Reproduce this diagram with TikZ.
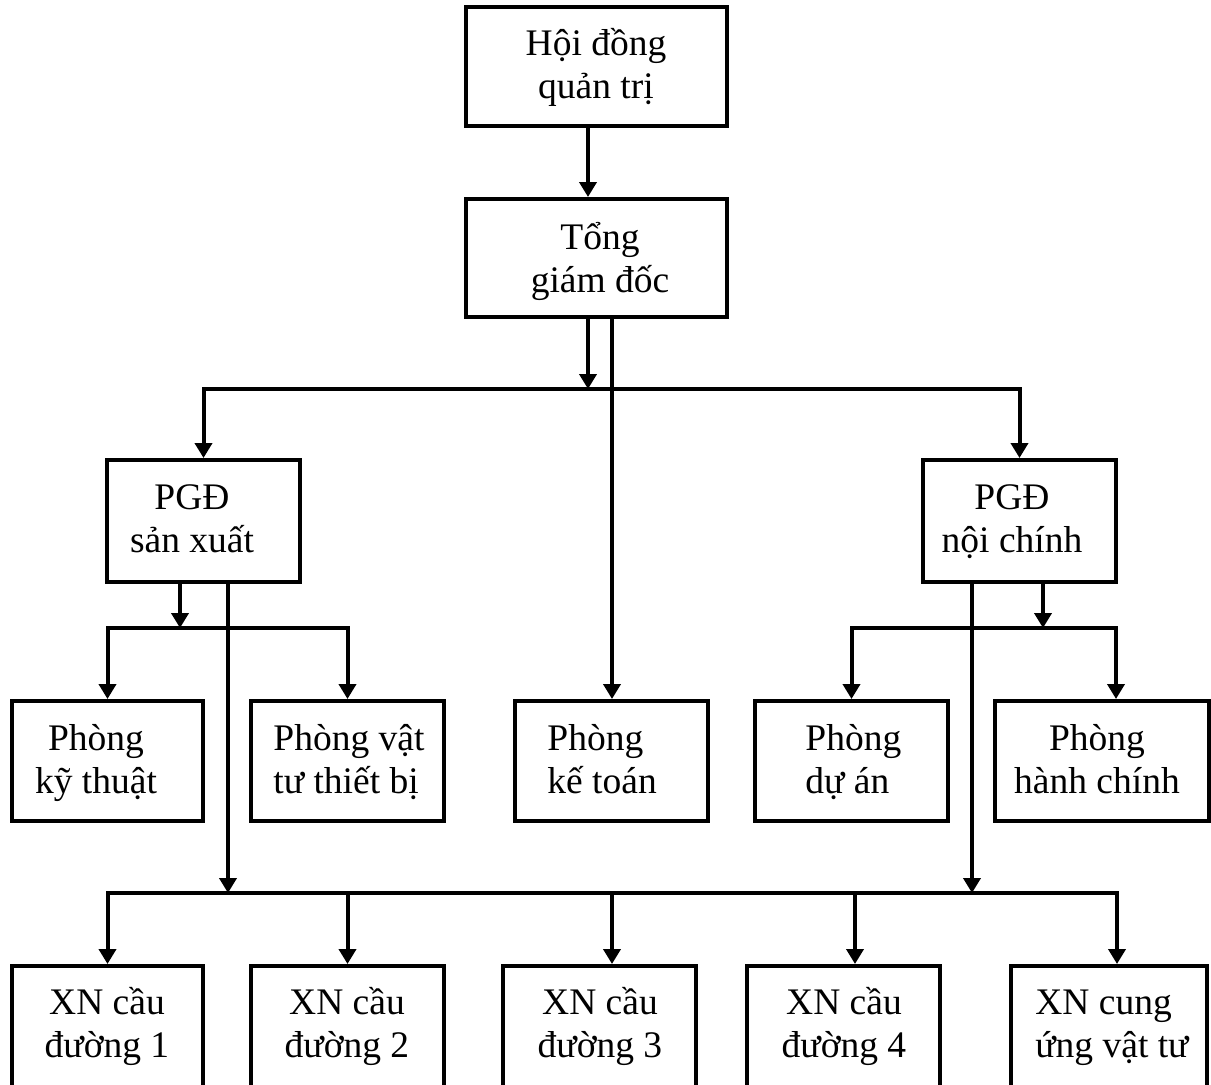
\documentclass[tikz,border=0pt]{standalone}
\usepackage{fontspec}
\setmainfont{Liberation Serif}
\usetikzlibrary{arrows.meta,fit}
% two-line label with fixed first-line height and fixed line spacing
\newcommand\twol[2]{\rule{0pt}{12pt}\smash{#1}\\\smash{#2}}
\begin{document}
\begin{tikzpicture}[x=0.5pt,y=-0.5pt,
  box/.style={draw,line width=2pt,inner sep=0pt},
  lbl/.style={inner sep=0pt,font=\fontsize{18.75pt}{21.75pt}\selectfont,align=center,anchor=north},
  lbll/.style={lbl,align=left,anchor=north west},
  wire/.style={line width=2pt},
  arr/.style={wire,-{Triangle[width=8.5pt,length=7.5pt]}}]
\useasboundingbox (0,0) rectangle (1211,1084);
\clip (0,0) rectangle (1211,1084);

% boxes
\node[box, fit={(466,7) (727,126)}] (hd) {};
\node[box, fit={(466,199) (727,317)}] (tgd) {};
\node[box, fit={(107,460) (300,582)}] (sx) {};
\node[box, fit={(923,460) (1116,582)}] (nc) {};
\node[box, fit={(12,701) (203,821)}] (kt) {};
\node[box, fit={(251,701) (444,821)}] (vt) {};
\node[box, fit={(515,701) (708,821)}] (kto) {};
\node[box, fit={(755,701) (948,821)}] (da) {};
\node[box, fit={(995,701) (1209,821)}] (hc) {};
\node[box, fit={(12,966) (203,1110)}] (x1) {};
\node[box, fit={(251,966) (444,1110)}] (x2) {};
\node[box, fit={(503,966) (696,1110)}] (x3) {};
\node[box, fit={(747,966) (940,1110)}] (x4) {};
\node[box, fit={(1011,966) (1207,1110)}] (x5) {};

% labels
\node[lbl] (t-hd) at (596,31) {\twol{Hội đồng}{quản trị}};
\node[lbl] (t-tgd) at (600,225) {\twol{Tổng}{giám đốc}};
\node[lbl] (t-sx) at (192,485) {\twol{PGĐ}{sản xuất}};
\node[lbl] (t-nc) at (1012,485) {\twol{PGĐ}{nội chính}};
\node[lbl] (t-kt) at (96,726) {\twol{Phòng}{kỹ thuật}};
\node[lbll] (t-vt) at (273,726) {\twol{Phòng vật}{tư thiết bị}};
\node[lbll] (t-kto) at (547,726) {\twol{Phòng}{kế toán}};
\node[lbll] (t-da) at (805,726) {\twol{Phòng}{dự án}};
\node[lbl] (t-hc) at (1097,726) {\twol{Phòng}{hành chính}};
\node[lbl] (t-x1) at (107,990) {\twol{XN cầu}{đường 1}};
\node[lbl] (t-x2) at (347,990) {\twol{XN cầu}{đường 2}};
\node[lbl] (t-x3) at (600,990) {\twol{XN cầu}{đường 3}};
\node[lbl] (t-x4) at (844,990) {\twol{XN cầu}{đường 4}};
\node[lbll] (t-x5) at (1035,990) {\twol{XN cung}{ứng vật tư}};

% junction points on the buses
\coordinate (j1) at (588,389);
\coordinate (j2) at (180,628);
\coordinate (j3) at (228,893);
\coordinate (j4) at (1043,628);
\coordinate (j5) at (972,893);
\coordinate (r1) at (1116,628);
\coordinate (r2) at (1117,893);
\coordinate (m3) at (612,893);
\coordinate (m4) at (855,893);

% connectors
\draw[arr] (hd.south -| j1) -- (tgd.north -| j1);
\draw[arr] (tgd.south -| j1) -- (j1);
\draw[arr] (j1) -- (sx.north |- j1) -- (sx.north);
\draw[arr] (j1) -- (nc.north |- j1) -- (nc.north);
\draw[arr] (tgd.south -| m3) -- (kto.north -| m3);

\draw[arr] (sx.south -| j2) -- (j2);
\draw[arr] (j2) -- (kt.north |- j2) -- (kt.north);
\draw[arr] (j2) -- (vt.north |- j2) -- (vt.north);
\draw[arr] (sx.south -| j3) -- (j3);

\draw[arr] (nc.south -| j4) -- (j4);
\draw[arr] (j4) -- (da.north |- j4) -- (da.north);
\draw[arr] (j4) -- (r1) -- (hc.north -| r1);
\draw[arr] (nc.south -| j5) -- (j5);

\draw[arr] (j3) -- (x1.north |- j3) -- (x1.north);
\draw[arr] (j3) -- (r2) -- (x5.north -| r2);
\draw[arr] (x2.north |- j3) -- (x2.north);
\draw[arr] (m3) -- (x3.north -| m3);
\draw[arr] (m4) -- (x4.north -| m4);
\end{tikzpicture}
\end{document}
